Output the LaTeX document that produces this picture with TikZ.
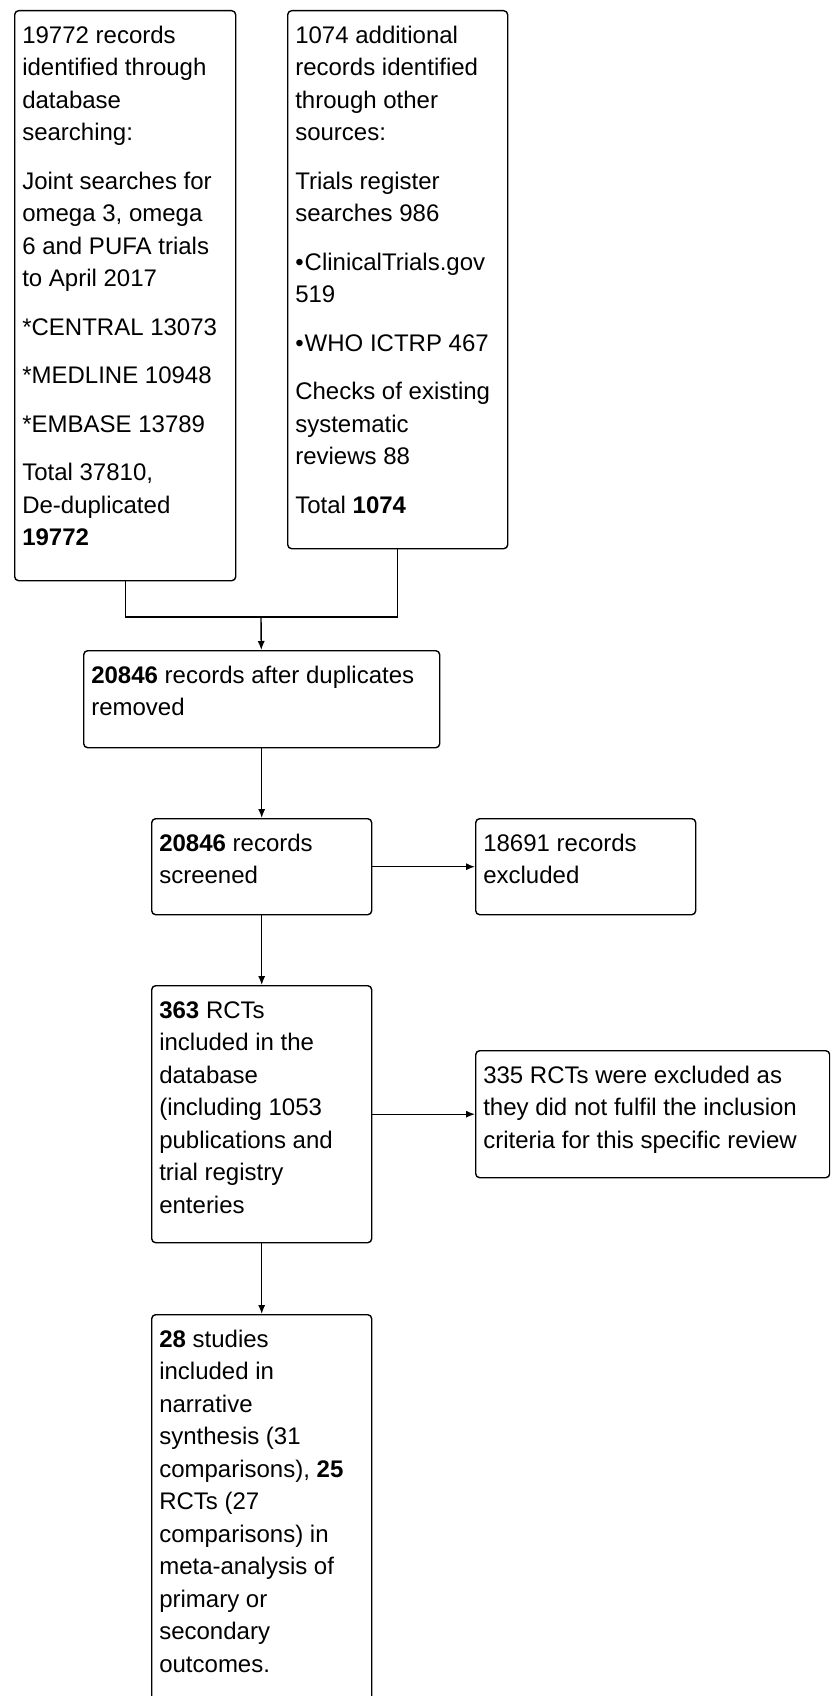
\documentclass[tikz,border=0pt]{standalone}
\usepackage{fontspec}
\setmainfont{Liberation Sans}
\usetikzlibrary{arrows.meta}

% box text: width and height of the box in px, text set from the top
\newcommand{\boxtext}[3]{\parbox[c][\dimexpr #2pt/2-9.8pt\relax][t]{\dimexpr #1pt/2-7.6pt\relax}{\setlength{\parskip}{8pt}\raggedright\strut #3}}

\begin{document}
\begin{tikzpicture}[
    x = 0.5pt, y = -0.5pt,
    line width = 0.7pt,
    font = \fontsize{12}{16.25}\selectfont,
    flowbox/.style = {draw, rounded corners = 2pt, anchor = north west, inner xsep = 3.8pt, inner ysep = 4.9pt},
    >={Latex[length = 4.5pt, width = 3.6pt]}
]
\clip (0,0) rectangle (830,1696);

\node[flowbox] (database) at (14,10) {\boxtext{221}{570}{19772 records\\ identified through\\ database\\ searching:\par Joint searches for\\ omega 3, omega\\ 6 and PUFA trials\\ to April 2017\par *CENTRAL 13073\par *MEDLINE 10948\par *EMBASE 13789\par Total 37810,\\ De-duplicated\\ \textbf{19772}}};
\node[flowbox] (other) at (287,10) {\boxtext{220}{538}{1074 additional\\ records identified\\ through other\\ sources:\par Trials register\\ searches 986\par •\hspace{0.5pt}ClinicalTrials.gov\\ 519\par •\hspace{0.5pt}WHO ICTRP 467\par Checks of existing\\ systematic\\ reviews 88\par Total \textbf{1074}}};
\node[flowbox] (dedup) at (83,650) {\boxtext{356}{97}{\textbf{20846} records after duplicates\\ removed}};
\node[flowbox] (screened) at (151,818) {\boxtext{220}{96}{\textbf{20846} records\\ screened}};
\node[flowbox] (excluded) at (475,818) {\boxtext{220}{96}{18691 records\\ excluded}};
\node[flowbox] (rcts) at (151,985) {\boxtext{220}{257}{\textbf{363} RCTs\\ included in the\\ database\\ (including 1053\\ publications and\\ trial registry\\ enteries}};
\node[flowbox] (notfulfil) at (475,1050) {\boxtext{354}{127}{335 RCTs were excluded as\\ they did not fulfil the inclusion\\ criteria for this specific review}};
\node[flowbox] (studies) at (151,1314) {\boxtext{220}{396}{\textbf{28} studies\\ included in\\ narrative\\ synthesis (31\\ comparisons), \textbf{25}\\ RCTs (27\\ comparisons) in\\ meta-analysis of\\ primary or\\ secondary\\ outcomes.}};

% joining the two sources
\coordinate (join) at (261,617);
\draw (database.south) |- (join) -| (other.south);

% arrows
\path[->]
(join) edge (dedup)
(dedup) edge (screened)
(screened) edge (excluded)
(screened) edge (rcts)
(rcts) edge (notfulfil)
(rcts) edge (studies)
;

\end{tikzpicture}
\end{document}
